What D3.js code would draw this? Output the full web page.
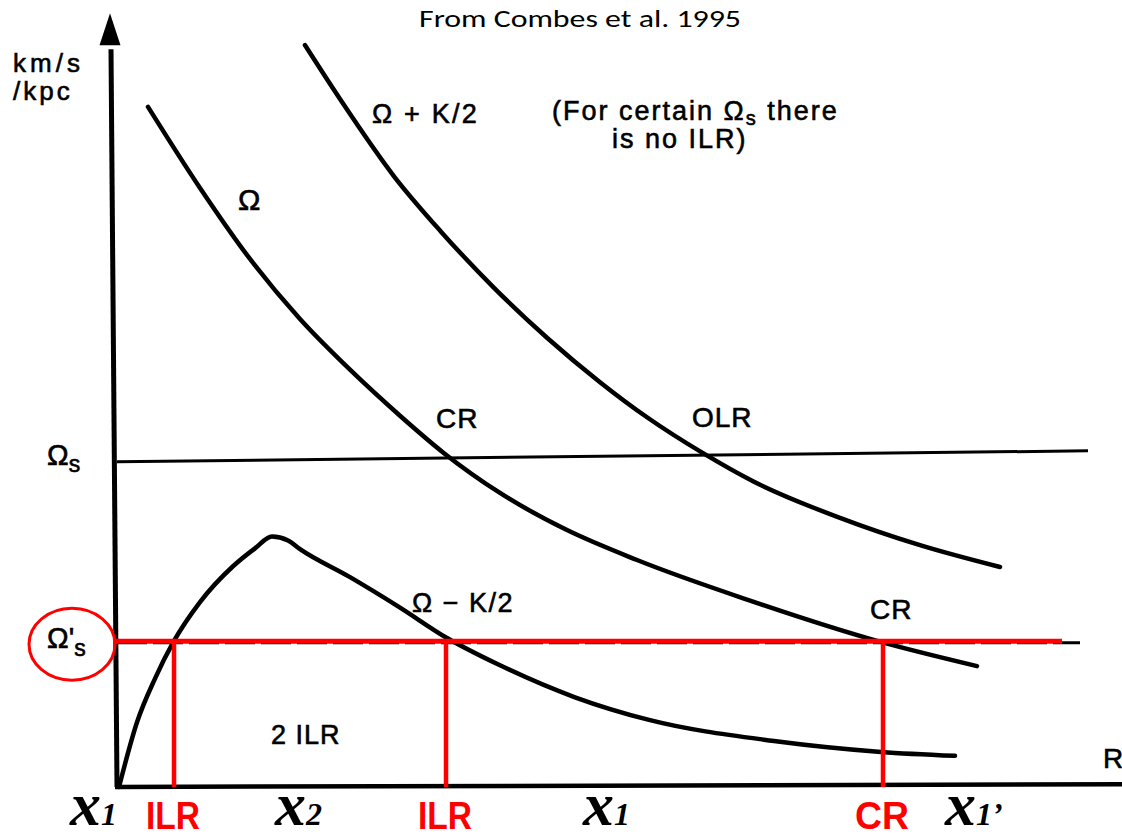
<!DOCTYPE html>
<html><head><meta charset="utf-8">
<script src="https://cdn.jsdelivr.net/npm/d3@7"></script>
<style>html,body{margin:0;padding:0;background:#fff;} svg{display:block;}</style>
</head><body>
<svg id="chart" width="1122" height="839"></svg>
<script>
// ---- data (R in arbitrary radius units, frequencies in km/s/kpc-like units) ----
const omegaR      = [0.31, 0.83, 1.33, 1.83, 2.33, 2.83, 3.27, 3.83, 4.49, 5.20, 6.33, 7.61, 8.60];
const omegaV      = [87.2, 76.8, 67.7, 60.0, 53.5, 47.6, 42.8, 37.7, 33.0, 29.1, 23.9, 18.7, 15.5];
const omegaPlusR  = [1.88, 2.23, 2.77, 3.24, 3.77, 4.30, 4.83, 5.30, 5.86, 6.36, 7.23, 8.03, 8.83];
const omegaPlusV  = [95.1, 88.2, 78.3, 71.2, 64.0, 57.6, 51.9, 47.4, 42.8, 39.2, 34.5, 31.0, 28.2];
const omegaMinusR = [0.02, 0.20, 0.38, 0.56, 0.83, 1.16, 1.38, 1.55, 1.71, 1.83, 2.33, 2.83, 3.30, 3.83, 4.58, 5.32, 6.57, 7.64, 8.38];
const omegaMinusV = [0.0, 8.3, 13.9, 18.5, 23.7, 28.3, 30.6, 32.1, 31.6, 30.5, 26.9, 23.0, 19.1, 15.6, 11.5, 8.6, 5.9, 4.5, 4.0];
const omegaSR     = [0, 9.71];
const omegaSV     = [41.7, 43.1];
const omegaSPrimeR = [0, 9.63];
const omegaSPrimeV = 18.5;
const redLineR    = [-0.02, 9.45];
const redLineV    = 18.7;
const resonanceR  = [0.57, 3.29, 7.66];
const resonanceNames = ["ILR", "ILR", "CR"];
const xLabelR     = [-0.47, 1.58, 4.66, 8.28];
const xLabelSub   = ["1", "2", "1", "1\u2019"];
const axisMaxR    = 10.05;
const axisTopV    = 95.1;
const arrowTipV   = 99.2;

// ---- scales ----
const x = d3.scaleLinear().domain([0, 10]).range([117, 1117]);
const y = d3.scaleLinear().domain([0, 100]).range([787, 7]);

const svg = d3.select("#chart");
const sans = "'Liberation Sans', Arial, Helvetica, sans-serif";

const line = d3.line().x(d => x(d[0])).y(d => y(d[1])).curve(d3.curveMonotoneX);

// axes
svg.append("line").attr("x1", x(0)).attr("y1", y(0)).attr("x2", x(-0.06)).attr("y2", y(axisTopV) + 4)
  .attr("stroke", "#000").attr("stroke-width", 5);
svg.append("path")
  .attr("d", `M${x(-0.07)},${y(arrowTipV)} L${x(-0.07) + 10.5},${y(axisTopV)} L${x(-0.07) - 10.5},${y(axisTopV)} Z`)
  .attr("fill", "#000");
svg.append("line").attr("x1", x(0) - 2).attr("y1", y(0)).attr("x2", x(axisMaxR)).attr("y2", y(0.35))
  .attr("stroke", "#000").attr("stroke-width", 4.5);

// pattern speed lines
svg.append("line").attr("x1", x(omegaSR[0])).attr("y1", y(omegaSV[0])).attr("x2", x(omegaSR[1])).attr("y2", y(omegaSV[1]))
  .attr("stroke", "#000").attr("stroke-width", 3);
svg.append("line").attr("x1", x(omegaSPrimeR[0])).attr("y1", y(omegaSPrimeV)).attr("x2", x(omegaSPrimeR[1])).attr("y2", y(omegaSPrimeV))
  .attr("stroke", "#000").attr("stroke-width", 3).attr("stroke-dasharray", "30 6");

// curves
const curves = [
  [omegaR, omegaV],
  [omegaPlusR, omegaPlusV],
  [omegaMinusR, omegaMinusV]
];
curves.forEach(([rs, vs]) => {
  svg.append("path").datum(rs.map((r, i) => [r, vs[i]]))
    .attr("d", line).attr("fill", "none").attr("stroke", "#000")
    .attr("stroke-width", 4.5).attr("stroke-linecap", "round").attr("stroke-linejoin", "round");
});

// red overlay
svg.append("line").attr("x1", x(redLineR[0])).attr("y1", y(redLineV)).attr("x2", x(redLineR[1])).attr("y2", y(redLineV))
  .attr("stroke", "#ff0000").attr("stroke-width", 5);
resonanceR.forEach(r => {
  svg.append("line").attr("x1", x(r)).attr("y1", y(redLineV)).attr("x2", x(r)).attr("y2", y(0))
    .attr("stroke", "#ff0000").attr("stroke-width", 4.5);
});
svg.append("ellipse").attr("cx", x(-0.45)).attr("cy", y(18.3)).attr("rx", 43).attr("ry", 36)
  .attr("fill", "none").attr("stroke", "#ff0000").attr("stroke-width", 3);

// annotations
function label(r, v, size, parts, spacing) {
  const t = svg.append("text").attr("x", x(r)).attr("y", y(v))
    .attr("font-family", sans).attr("font-size", size).attr("fill", "#000")
    .attr("stroke", "#000").attr("stroke-width", 0.6)
    .attr("letter-spacing", spacing || 0);
  parts.forEach(p => {
    if (typeof p === "string") t.append("tspan").text(p);
    else t.append("tspan").attr("font-size", p.size).attr("dy", p.dy).text(p.t);
  });
  return t;
}
label(-1.04, 91.7, 26, ["km/s"], 4);
label(-1.04, 88.1, 26, ["/kpc"], 3);
label(1.21, 74.0, 30, ["\u03A9"]);
label(2.55, 85.1, 27, ["\u03A9 + K/2"], 2.2);
label(4.35, 85.5, 27, ["(For certain \u03A9", {t: "s", size: 20, dy: 5}, {t: " there", size: 27, dy: -5}], 2);
label(4.95, 81.9, 27, ["is no ILR)"], 2);
label(3.19, 46.0, 28, ["CR"], 1);
label(5.75, 46.2, 28, ["OLR"], 1);
label(2.95, 22.4, 27, ["\u03A9 \u2212 K/2"], 1.5);
label(7.53, 21.5, 28, ["CR"], 1);
label(1.54, 5.5, 27, ["2 ILR"], 1);
label(9.86, 2.4, 28, ["R"]);
label(-0.70, 41.3, 29, ["\u03A9", {t: "s", size: 23, dy: 7}]);
label(-0.70, 17.8, 29, ["\u03A9'", {t: "s", size: 23, dy: 8}]);

// title
svg.append("text").attr("x", 580).attr("y", 27).attr("text-anchor", "middle")
  .attr("font-family", "Carlito, Calibri, 'Open Sans', sans-serif").attr("font-size", 24)
  .attr("textLength", 322).attr("lengthAdjust", "spacingAndGlyphs")
  .attr("fill", "#000").text("From Combes et al. 1995");

// bottom labels
xLabelR.forEach((r, i) => {
  const t = svg.append("text").attr("x", x(r)).attr("y", 825)
    .attr("font-family", "'Liberation Serif', 'Times New Roman', serif")
    .attr("font-style", "italic").attr("font-weight", "bold").attr("fill", "#000");
  t.append("tspan").attr("font-size", 62).text("x");
  t.append("tspan").attr("font-size", 32).text(xLabelSub[i]);
});
resonanceR.forEach((r, i) => {
  svg.append("text").attr("x", x(r) - 1).attr("y", 829).attr("text-anchor", "middle")
    .attr("font-family", "'Liberation Sans Narrow', 'Arial Narrow', " + sans)
    .attr("font-weight", "bold").attr("font-size", 38).attr("fill", "#ff0000")
    .attr("textLength", 54).attr("lengthAdjust", "spacingAndGlyphs")
    .text(resonanceNames[i]);
});
</script>
</body></html>
